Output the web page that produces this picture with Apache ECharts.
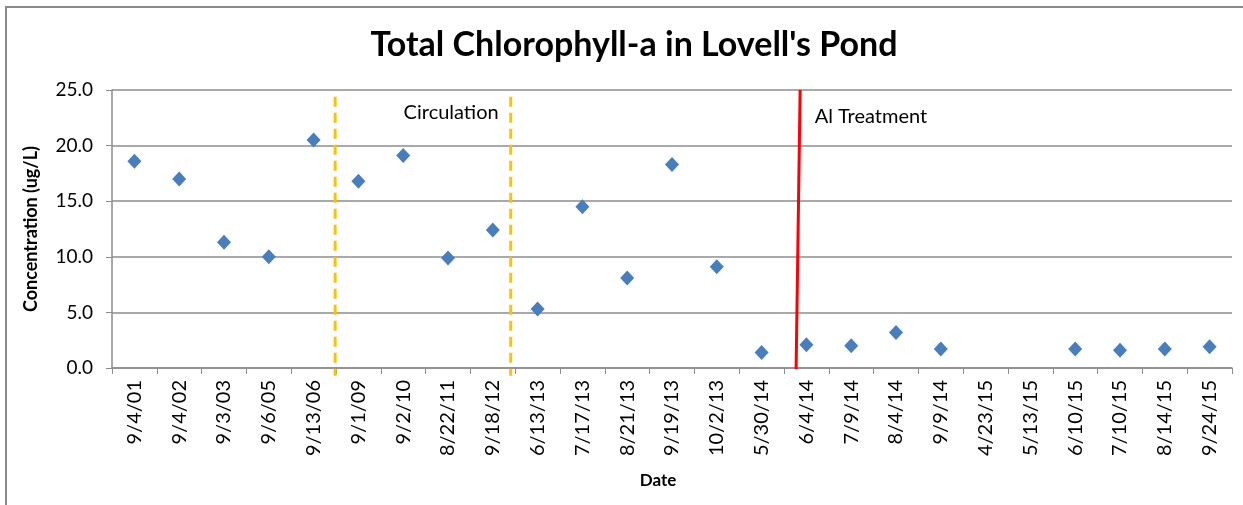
<!DOCTYPE html>
<html>
<head>
<meta charset="utf-8">
<script src="https://cdn.jsdelivr.net/npm/echarts@6/dist/echarts.min.js"></script>
<style>
  html, body { margin: 0; padding: 0; background: #fff; }
  #chart { width: 1243px; height: 505px; }
</style>
</head>
<body>
<div id="chart"></div>
<script>
const dates = ['9/4/01', '9/4/02', '9/3/03', '9/6/05', '9/13/06', '9/1/09', '9/2/10', '8/22/11', '9/18/12',
  '6/13/13', '7/17/13', '8/21/13', '9/19/13', '10/2/13', '5/30/14', '6/4/14', '7/9/14', '8/4/14', '9/9/14',
  '4/23/15', '5/13/15', '6/10/15', '7/10/15', '8/14/15', '9/24/15'];
const chlorophyll = [18.6, 17.0, 11.3, 10.0, 20.5, 16.8, 19.1, 9.9, 12.4,
  5.3, 14.5, 8.1, 18.3, 9.1, 1.4, 2.1, 2.0, 3.2, 1.7,
  null, null, 1.7, 1.6, 1.7, 1.9];
const yTicks = [0, 5, 10, 15, 20, 25];

// annotation lines, in category-slot units (0..25) across the x axis
const circulationStart = [[4.98, 24.4], [4.98, -0.7]];
const circulationEnd = [[8.9, 24.4], [8.9, -0.7]];
const alTreatment = [[15.36, 25], [15.27, -0.1]];
const notes = [
  { name: 'Circulation', value: [7.57, 22.93] },
  { name: 'Al Treatment', value: [16.94, 22.57] }
];

const font = 'Lato, "Open Sans", sans-serif';
const grey = '#8c8c8c';

const chart = echarts.init(document.getElementById('chart'), null, { renderer: 'canvas' });

const dashed = (data) => ({
  type: 'line',
  xAxisIndex: 1,
  yAxisIndex: 1,
  data,
  symbol: 'none',
  clip: false,
  silent: true,
  lineStyle: { color: '#ffc000', width: 3, type: [10, 6] },
  z: 1
});

chart.setOption({
  animation: false,
  backgroundColor: '#fff',
  graphic: [{
    type: 'rect',
    shape: { x: 6, y: 7, width: 1400, height: 700 },
    style: { fill: 'none', stroke: '#8a8a8a', lineWidth: 2 },
    silent: true,
    z: -10
  }],
  title: {
    text: "Total Chlorophyll-a in Lovell's Pond",
    left: 629,
    top: 23,
    textAlign: 'center',
    textStyle: { fontFamily: font, fontWeight: 'bold', fontSize: 34, color: '#000' }
  },
  grid: { left: 112, right: 11, top: 90, bottom: 137 },
  xAxis: [{
    type: 'category',
    data: dates,
    boundaryGap: true,
    name: 'Date',
    nameLocation: 'middle',
    nameGap: 104,
    nameTextStyle: { fontFamily: font, fontWeight: 'bold', fontSize: 17, color: '#000', padding: [0, 28, 0, 0] },
    axisLine: { lineStyle: { color: grey, width: 1.5 } },
    axisTick: { show: true, length: 6, lineStyle: { color: grey } },
    axisLabel: { rotate: 90, margin: 12, interval: 0, fontFamily: font, fontSize: 20, color: '#000' },
    splitLine: { show: false }
  }, {
    type: 'value',
    min: 0,
    max: 25,
    show: false
  }],
  yAxis: [{
    type: 'value',
    min: yTicks[0],
    max: yTicks[yTicks.length - 1],
    interval: 5,
    name: 'Concentration (ug/L)',
    nameLocation: 'middle',
    nameRotate: 90,
    nameGap: 72,
    nameTextStyle: { fontFamily: font, fontWeight: 'bold', fontSize: 18, color: '#000' },
    axisLine: { show: true, lineStyle: { color: grey, width: 1.5 } },
    axisTick: { show: true, length: 6, lineStyle: { color: grey } },
    axisLabel: { margin: 19, fontFamily: font, fontSize: 19, color: '#000', formatter: (v) => v.toFixed(1) },
    splitLine: { show: true, lineStyle: { color: grey, width: 1.5 } }
  }, {
    type: 'value',
    min: 0,
    max: 25,
    show: false
  }],
  series: [
    {
      type: 'scatter',
      data: chlorophyll.map((v) => (v === null ? '-' : v)),
      symbol: 'diamond',
      symbolSize: [14, 15],
      itemStyle: { color: '#4a7ebb', opacity: 1 },
      z: 3
    },
    dashed(circulationStart),
    dashed(circulationEnd),
    {
      type: 'line',
      xAxisIndex: 1,
      yAxisIndex: 1,
      data: alTreatment,
      symbol: 'none',
      clip: false,
      silent: true,
      lineStyle: { color: '#ff0000', width: 3 },
      z: 2
    },
    {
      type: 'scatter',
      xAxisIndex: 1,
      yAxisIndex: 1,
      data: notes,
      symbolSize: 0,
      silent: true,
      itemStyle: { opacity: 1 },
      label: {
        show: true,
        position: 'inside',
        formatter: (p) => p.name,
        fontFamily: font,
        fontSize: 20,
        color: '#000',
        opacity: 1
      }
    }
  ]
});
</script>
</body>
</html>
